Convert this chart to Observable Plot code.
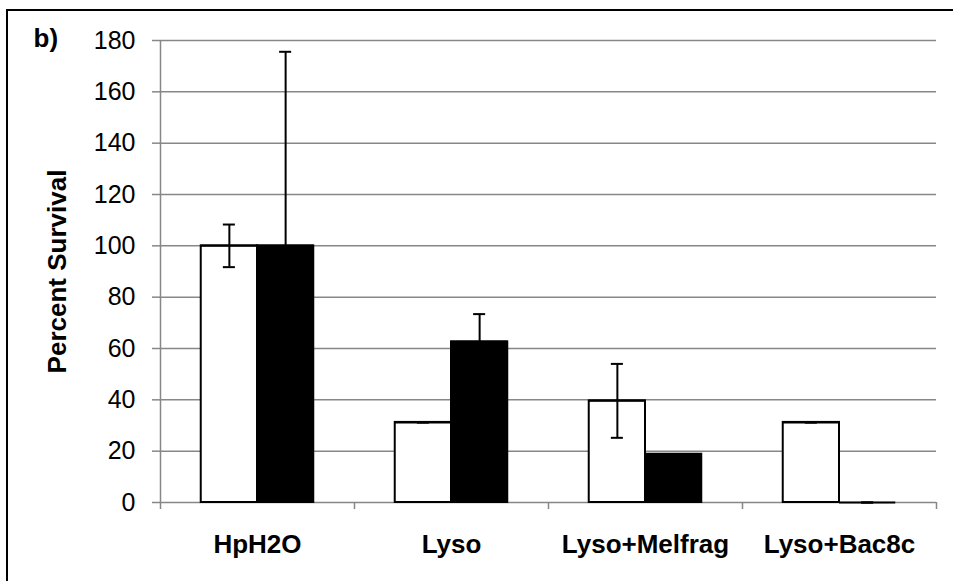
<!DOCTYPE html>
<html>
<head>
<meta charset="utf-8">
<script src="https://cdn.jsdelivr.net/npm/d3@7"></script>
<script src="https://cdn.jsdelivr.net/npm/@observablehq/plot@0.6"></script>
<style>
  html, body { margin: 0; padding: 0; background: #fff; }
  #wrap { position: relative; width: 953px; height: 581px; overflow: hidden; }
  #border { position: absolute; left: 6px; top: 9px; width: 2000px; height: 2000px;
            border-left: 2px solid #000; border-top: 2px solid #000; pointer-events: none; }
</style>
</head>
<body>
<div id="wrap"><div id="border"></div></div>
<script>
// ---- data ----
const categories = ["HpH2O", "Lyso", "Lyso+Melfrag", "Lyso+Bac8c"];
const seriesNames = ["white", "black"];
const whiteValues = [100, 31.2, 39.6, 31.2];
const whiteErrors = [8.3, 0, 14.4, 0];
const blackValues = [100, 62.6, 18.8, 0];
const blackErrors = [75.6, 10.8, 0, 0];
const yTicks = [0, 20, 40, 60, 80, 100, 120, 140, 160, 180];
const panelLabel = "b)";
const yLabel = "Percent Survival";

// ---- layout constants (fractions of one category band) ----
const barW = 0.29;
const capHalf = 0.031;

const rows = [];
categories.forEach((c, i) => {
  rows.push({cat: c, series: "white", value: whiteValues[i], err: whiteErrors[i],
             x1: i + 0.5 - barW, x2: i + 0.5});
  rows.push({cat: c, series: "black", value: blackValues[i], err: blackErrors[i],
             x1: i + 0.5, x2: i + 0.5 + barW});
});
rows.forEach(d => { d.cx = (d.x1 + d.x2) / 2; });

const gray = "#878787";
const catIndex = d3.range(categories.length);

const chart = Plot.plot({
  width: 953,
  height: 581,
  marginLeft: 160,
  marginRight: 17,
  marginTop: 40,
  marginBottom: 79,
  style: {fontFamily: "'Liberation Sans', Arial, sans-serif", color: "#000", background: "#fff", overflow: "visible"},
  x: {type: "linear", domain: [0, categories.length], axis: null},
  y: {domain: [0, 180], axis: null},
  color: {domain: seriesNames, range: ["#ffffff", "#000000"]},
  marks: [
    Plot.gridY(yTicks, {stroke: gray, strokeOpacity: 1, strokeWidth: 1.5}),
    Plot.axisY(yTicks, {tickSize: 8, tickPadding: 17, stroke: gray, strokeWidth: 1.5, fill: "#000",
                        fontSize: 25, tickFormat: d => String(d), label: null}),
    Plot.ruleX([0], {stroke: gray, strokeWidth: 1.5}),
    Plot.axisX(d3.range(categories.length + 1), {tickSize: 7, stroke: gray, strokeWidth: 1.5,
                        tickFormat: () => "", label: null}),
    Plot.axisX(catIndex.map(i => i + 0.5), {tickSize: 0, tickPadding: 32, fontSize: 26, fontWeight: "bold",
                        fill: "#000", tickFormat: v => categories[Math.floor(v)], label: null}),
    Plot.rect(rows, {x1: "x1", x2: "x2", y1: 0, y2: "value", fill: "series",
                     stroke: "#000", strokeWidth: 2}),
    Plot.ruleY(rows, {y: "value", x1: "x1", x2: "x2", stroke: "#000", strokeWidth: 2}),
    Plot.ruleX(rows, {x: "cx", y1: d => d.value - d.err, y2: d => d.value + d.err,
                      stroke: "#000", strokeWidth: 2}),
    Plot.ruleY(rows, {y: d => d.value + d.err, x1: d => d.cx - capHalf, x2: d => d.cx + capHalf,
                      stroke: "#000", strokeWidth: 2}),
    Plot.ruleY(rows, {y: d => d.value - d.err, x1: d => d.cx - capHalf, x2: d => d.cx + capHalf,
                      stroke: "#000", strokeWidth: 2}),
    Plot.text([yLabel], {text: d => d, frameAnchor: "left", textAnchor: "middle", lineAnchor: "middle",
                         rotate: -90, dx: -103, fontSize: 26, fontWeight: "bold", fill: "#000"}),
    Plot.text([panelLabel], {text: d => d, frameAnchor: "top-left", textAnchor: "start", lineAnchor: "middle",
                             dx: -127, dy: -2, fontSize: 26, fontWeight: "bold", fill: "#000"})
  ]
});

document.getElementById("wrap").insertBefore(chart, document.getElementById("border"));
</script>
</body>
</html>
